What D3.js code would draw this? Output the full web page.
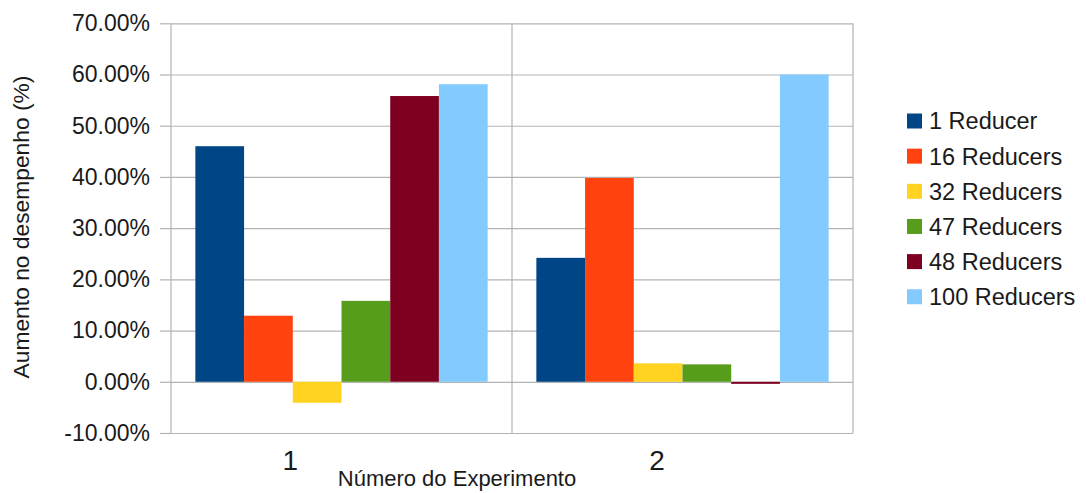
<!DOCTYPE html>
<html>
<head>
<meta charset="utf-8">
<script src="https://cdn.jsdelivr.net/npm/d3@7"></script>
<style>
  html, body { margin: 0; padding: 0; background: #fff; }
  svg { display: block; font-family: "Liberation Sans", Arial, sans-serif; }
</style>
</head>
<body>
<svg id="chart" width="1086" height="493"></svg>
<script>
// Experiments on the x axis and reducer configurations as series
const categories = ["1", "2"];
const seriesNames = ["1 Reducer", "16 Reducers", "32 Reducers", "47 Reducers", "48 Reducers", "100 Reducers"];

// Performance gain (%) per configuration, one value per experiment
const reducer1   = [46.0, 24.2];
const reducers16 = [12.9, 39.8];
const reducers32 = [-4.1, 3.6];
const reducers47 = [15.8, 3.4];
const reducers48 = [55.8, -0.4];
const reducers100 = [58.1, 60.0];

const yTicks = [-10, 0, 10, 20, 30, 40, 50, 60, 70];
const seriesColors = ["#004586", "#ff420e", "#ffd320", "#579d1c", "#7e0021", "#83caff"];

const seriesValues = [reducer1, reducers16, reducers32, reducers47, reducers48, reducers100];
const rows = categories.map((c, i) => ({
  category: c,
  values: seriesNames.map((s, j) => ({ series: s, value: seriesValues[j][i] }))
}));

const svg = d3.select("#chart");
const plot = { left: 171, right: 853, top: 23.3, bottom: 433 };

const y = d3.scaleLinear().domain([-10, 70]).range([plot.bottom, plot.top]);
const x0 = d3.scaleBand().domain(categories).range([plot.left, plot.right]).padding(0);
const bw = x0.bandwidth();
const x1 = d3.scaleBand().domain(seriesNames).range([bw / 14, bw * 13 / 14]).padding(0);
const color = d3.scaleOrdinal().domain(seriesNames).range(seriesColors);

const gridColor = "#b3b3b3";
const fmt = d => d.toFixed(2) + "%";

// Y axis: grid lines spanning the plot plus short outward ticks, labels on the left
const yAxis = d3.axisLeft(y)
  .tickValues(yTicks)
  .tickSize(11)
  .tickPadding(10)
  .tickFormat(fmt);

const gy = svg.append("g")
  .attr("transform", `translate(${plot.left},0)`)
  .call(yAxis);
gy.select(".domain").remove();
gy.selectAll(".tick line")
  .attr("stroke", gridColor)
  .attr("stroke-width", 1.2)
  .attr("x2", -11)
  .clone()
  .attr("x2", plot.right - plot.left);
gy.selectAll(".tick text")
  .attr("font-family", "Liberation Sans, Arial, sans-serif")
  .attr("font-size", 23)
  .attr("fill", "#1a1a1a");

// Vertical lines: plot edges and category boundaries
const vLines = [plot.left, ...categories.slice(1).map(c => x0(c)), plot.right];
svg.append("g").selectAll("line")
  .data(vLines)
  .join("line")
  .attr("x1", d => d).attr("x2", d => d)
  .attr("y1", plot.top).attr("y2", plot.bottom)
  .attr("stroke", gridColor)
  .attr("stroke-width", 1.2);

// Bars
svg.append("g").selectAll("g")
  .data(rows)
  .join("g")
  .attr("transform", d => `translate(${x0(d.category)},0)`)
  .selectAll("rect")
  .data(d => d.values)
  .join("rect")
  .attr("x", d => x1(d.series))
  .attr("width", x1.bandwidth())
  .attr("y", d => y(Math.max(0, d.value)))
  .attr("height", d => Math.abs(y(d.value) - y(0)))
  .attr("fill", d => color(d.series));

// Category labels
const labelShift = [0.35, 0.425];
svg.append("g").selectAll("text")
  .data(categories)
  .join("text")
  .attr("x", (d, i) => x0(d) + bw * labelShift[i])
  .attr("y", 470)
  .attr("text-anchor", "middle")
  .attr("font-size", 28)
  .attr("fill", "#1a1a1a")
  .text(d => d);

// Axis titles
svg.append("text")
  .attr("x", 457)
  .attr("y", 486)
  .attr("text-anchor", "middle")
  .attr("font-size", 22)
  .attr("fill", "#1a1a1a")
  .text("Número do Experimento");

svg.append("text")
  .attr("transform", "translate(29,227) rotate(-90)")
  .attr("text-anchor", "middle")
  .attr("font-size", 22.8)
  .attr("fill", "#1a1a1a")
  .text("Aumento no desempenho (%)");

// Legend
const legend = svg.append("g").attr("transform", "translate(907,121)");
const item = legend.selectAll("g")
  .data(seriesNames)
  .join("g")
  .attr("transform", (d, i) => `translate(0,${i * 35.15})`);
item.append("rect")
  .attr("x", 0).attr("y", -7.5)
  .attr("width", 15).attr("height", 15)
  .attr("fill", d => color(d));
item.append("text")
  .attr("x", 22)
  .attr("y", 0)
  .attr("dy", "0.36em")
  .attr("font-size", 23.5)
  .attr("fill", "#1a1a1a")
  .text(d => d);
</script>
</body>
</html>
